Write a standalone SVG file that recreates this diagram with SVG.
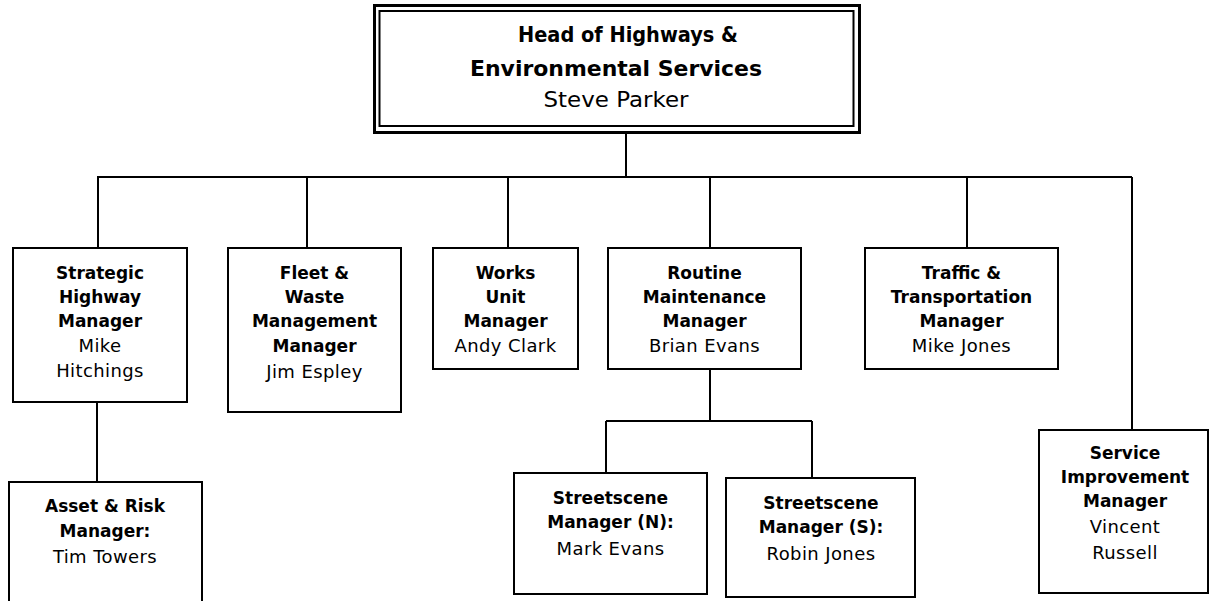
<svg xmlns="http://www.w3.org/2000/svg" width="1210" height="601" viewBox="0 0 1210 601">
<style>
.box{fill:#fff;stroke:#000;stroke-width:2}
.ln{fill:none;stroke:#000;stroke-width:2}
text{font-family:"DejaVu Sans","Verdana",sans-serif;font-size:17px;text-anchor:middle;fill:#000}
.b{font-weight:bold}
.r{font-size:18px;letter-spacing:0.4px}
.t{font-size:21px}
</style>
<rect width="1210" height="601" fill="#fff"/>
<g id="connectors">
<path class="ln" d="M626 133V177M97 177H1132M98 177V248M307 177V248M508 177V248M710 177V248M967 177V248M1132 177V430M97 402V482M710 369V421M606 421H812M606 421V473M812 421V478"/>
</g>
<g id="head">
<rect x="374.5" y="5.5" width="485" height="127" fill="#fff" stroke="#000" stroke-width="3"/>
<rect x="379.5" y="11" width="474" height="115" fill="none" stroke="#000" stroke-width="2"/>
<text class="b t" x="628" y="42" textLength="220" lengthAdjust="spacingAndGlyphs">Head of Highways &amp;</text>
<text class="b t" x="616" y="76" textLength="292" lengthAdjust="spacingAndGlyphs">Environmental Services</text>
<text class="t" x="616" y="107" textLength="145" lengthAdjust="spacingAndGlyphs">Steve Parker</text>
</g>
<g id="strategic">
<rect class="box" x="13" y="248" width="174" height="154"/>
<text class="b" x="100" y="279">Strategic</text>
<text class="b" x="100" y="303">Highway</text>
<text class="b" x="100" y="327">Manager</text>
<text class="r" x="100" y="352">Mike</text>
<text class="r" x="100" y="377">Hitchings</text>
</g>
<g id="fleet">
<rect class="box" x="228" y="248" width="173" height="164"/>
<text class="b" x="314.5" y="279">Fleet &amp;</text>
<text class="b" x="314.5" y="303">Waste</text>
<text class="b" x="314.5" y="327">Management</text>
<text class="b" x="314.5" y="352">Manager</text>
<text class="r" x="314.5" y="378">Jim Espley</text>
</g>
<g id="works">
<rect class="box" x="433" y="248" width="145" height="121"/>
<text class="b" x="505.5" y="279">Works</text>
<text class="b" x="505.5" y="303">Unit</text>
<text class="b" x="505.5" y="327">Manager</text>
<text class="r" x="505.5" y="352">Andy Clark</text>
</g>
<g id="routine">
<rect class="box" x="608" y="248" width="193" height="121"/>
<text class="b" x="704.5" y="279">Routine</text>
<text class="b" x="704.5" y="303">Maintenance</text>
<text class="b" x="704.5" y="327">Manager</text>
<text class="r" x="704.5" y="352">Brian Evans</text>
</g>
<g id="traffic">
<rect class="box" x="865" y="248" width="193" height="121"/>
<text class="b" x="961.5" y="279">Traffic &amp;</text>
<text class="b" x="961.5" y="303">Transportation</text>
<text class="b" x="961.5" y="327">Manager</text>
<text class="r" x="961.5" y="352">Mike Jones</text>
</g>
<g id="asset">
<path class="ln" d="M9 603V482H202V603"/>
<text class="b" x="105" y="512">Asset &amp; Risk</text>
<text class="b" x="105" y="537">Manager:</text>
<text class="r" x="105" y="563">Tim Towers</text>
</g>
<g id="streetN">
<rect class="box" x="514" y="473" width="193" height="121"/>
<text class="b" x="610.5" y="504">Streetscene</text>
<text class="b" x="610.5" y="528">Manager (N):</text>
<text class="r" x="610.5" y="555">Mark Evans</text>
</g>
<g id="streetS">
<rect class="box" x="726" y="478" width="189" height="119"/>
<text class="b" x="821" y="509">Streetscene</text>
<text class="b" x="821" y="533">Manager (S):</text>
<text class="r" x="821" y="560">Robin Jones</text>
</g>
<g id="service">
<rect class="box" x="1039" y="430" width="169" height="163"/>
<text class="b" x="1125" y="459">Service</text>
<text class="b" x="1125" y="483">Improvement</text>
<text class="b" x="1125" y="507">Manager</text>
<text class="r" x="1125" y="533">Vincent</text>
<text class="r" x="1125" y="559">Russell</text>
</g>
</svg>
